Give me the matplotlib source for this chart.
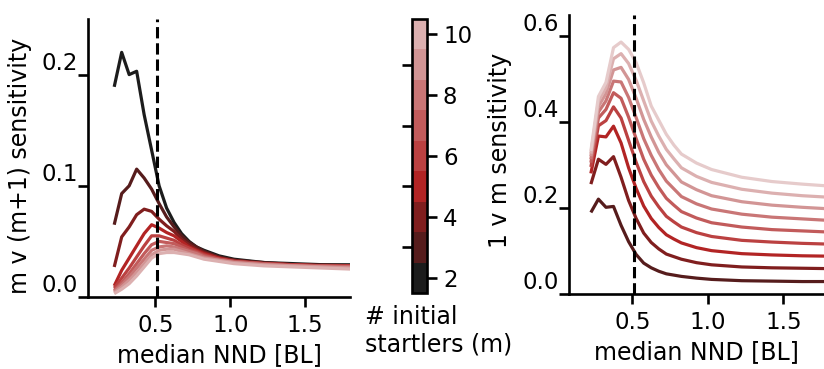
import numpy as np
import matplotlib
matplotlib.use("Agg")
import matplotlib.pyplot as plt
from matplotlib.colors import ListedColormap, BoundaryNorm
from matplotlib.cm import ScalarMappable
from matplotlib.ticker import FixedLocator

# ---------------- data ----------------
nnd = [0.225, 0.275, 0.325, 0.375, 0.425, 0.475, 0.525, 0.575, 0.625, 0.675,
       0.725, 0.775, 0.825, 0.925, 1.025, 1.225, 1.425, 1.625, 1.825]

m_values = [2, 3, 4, 5, 6, 7, 8, 9, 10]

# m v (m+1) sensitivity (left panel)
mvm1_m2 = [0.189, 0.220, 0.200, 0.203, 0.164, 0.132, 0.100, 0.080, 0.067, 0.057, 0.050, 0.045, 0.042, 0.037, 0.034, 0.031, 0.030, 0.029, 0.029]
mvm1_m3 = [0.065, 0.093, 0.100, 0.115, 0.107, 0.097, 0.084, 0.072, 0.063, 0.055, 0.049, 0.045, 0.041, 0.036, 0.033, 0.031, 0.029, 0.029, 0.028]
mvm1_m4 = [0.027, 0.054, 0.063, 0.074, 0.079, 0.077, 0.070, 0.064, 0.059, 0.052, 0.047, 0.043, 0.040, 0.035, 0.033, 0.030, 0.029, 0.028, 0.028]
mvm1_m5 = [0.010, 0.024, 0.035, 0.046, 0.057, 0.065, 0.062, 0.058, 0.055, 0.050, 0.045, 0.042, 0.039, 0.035, 0.032, 0.030, 0.029, 0.028, 0.028]
mvm1_m6 = [0.008, 0.017, 0.026, 0.036, 0.046, 0.055, 0.055, 0.053, 0.051, 0.047, 0.044, 0.041, 0.038, 0.034, 0.032, 0.030, 0.029, 0.028, 0.028]
mvm1_m7 = [0.006, 0.013, 0.021, 0.030, 0.039, 0.047, 0.050, 0.049, 0.048, 0.045, 0.042, 0.040, 0.037, 0.034, 0.032, 0.030, 0.028, 0.028, 0.027]
mvm1_m8 = [0.005, 0.011, 0.018, 0.026, 0.034, 0.042, 0.045, 0.046, 0.045, 0.043, 0.041, 0.039, 0.036, 0.033, 0.031, 0.029, 0.028, 0.027, 0.027]
mvm1_m9 = [0.004, 0.009, 0.015, 0.022, 0.030, 0.038, 0.042, 0.043, 0.043, 0.041, 0.039, 0.037, 0.035, 0.033, 0.031, 0.029, 0.028, 0.027, 0.026]
mvm1_m10 = [0.003, 0.007, 0.012, 0.019, 0.027, 0.035, 0.039, 0.040, 0.040, 0.039, 0.038, 0.036, 0.034, 0.032, 0.030, 0.028, 0.027, 0.026, 0.025]

# 1 v m sensitivity (right panel), bottom to top
onevm_1 = [0.190, 0.221, 0.202, 0.204, 0.160, 0.122, 0.092, 0.072, 0.061, 0.053, 0.047, 0.044, 0.041, 0.037, 0.034, 0.031, 0.030, 0.029, 0.029]
onevm_2 = [0.256, 0.314, 0.302, 0.320, 0.272, 0.218, 0.176, 0.142, 0.120, 0.105, 0.093, 0.087, 0.081, 0.073, 0.068, 0.063, 0.061, 0.060, 0.059]
onevm_3 = [0.281, 0.368, 0.366, 0.391, 0.352, 0.294, 0.246, 0.205, 0.176, 0.155, 0.138, 0.128, 0.119, 0.108, 0.101, 0.094, 0.091, 0.089, 0.088]
onevm_4 = [0.296, 0.392, 0.404, 0.436, 0.410, 0.358, 0.307, 0.262, 0.228, 0.203, 0.181, 0.168, 0.156, 0.143, 0.134, 0.125, 0.121, 0.118, 0.116]
onevm_5 = [0.306, 0.410, 0.430, 0.469, 0.456, 0.412, 0.362, 0.314, 0.277, 0.248, 0.223, 0.207, 0.192, 0.177, 0.166, 0.156, 0.150, 0.147, 0.144]
onevm_6 = [0.314, 0.424, 0.450, 0.496, 0.494, 0.458, 0.411, 0.362, 0.323, 0.290, 0.263, 0.245, 0.227, 0.210, 0.198, 0.186, 0.179, 0.175, 0.171]
onevm_7 = [0.321, 0.437, 0.467, 0.522, 0.528, 0.500, 0.456, 0.407, 0.366, 0.330, 0.301, 0.281, 0.261, 0.243, 0.229, 0.215, 0.207, 0.202, 0.198]
onevm_8 = [0.327, 0.449, 0.481, 0.548, 0.560, 0.537, 0.498, 0.450, 0.403, 0.368, 0.337, 0.315, 0.294, 0.274, 0.260, 0.244, 0.235, 0.229, 0.225]
onevm_9 = [0.333, 0.460, 0.493, 0.574, 0.587, 0.570, 0.539, 0.492, 0.438, 0.405, 0.372, 0.347, 0.326, 0.305, 0.290, 0.272, 0.262, 0.256, 0.251]

threshold = 0.51

left_series = [mvm1_m2, mvm1_m3, mvm1_m4, mvm1_m5, mvm1_m6, mvm1_m7, mvm1_m8, mvm1_m9, mvm1_m10]
right_series = [onevm_1, onevm_2, onevm_3, onevm_4, onevm_5, onevm_6, onevm_7, onevm_8, onevm_9]

# ---------------- style ----------------
palette = ["#1c1c1c", "#561c1c", "#801e1e", "#b22424", "#bb4141",
           "#c25b5b", "#c97676", "#d29595", "#dcb0b0", "#e6cbcb"]
left_colors = palette[:9]
right_colors = palette[1:]

W, H = 824, 369
fig = plt.figure(figsize=(W / 100, H / 100), dpi=100)
ax1 = fig.add_axes([88 / W, 72 / H, 262 / W, 278 / H])
cax = fig.add_axes([412 / W, 76 / H, 15 / W, 274 / H])
ax2 = fig.add_axes([569 / W, 75 / H, 255 / W, 279 / H])

TICK_FS = 16.5
LABEL_FS = 17
LW = 2.3
SPINE_W = 1.9

for ax, series, cols in [(ax1, left_series, left_colors), (ax2, right_series, right_colors)]:
    for ys, c in zip(series, cols):
        ax.plot(nnd, ys, color=c, lw=LW, solid_capstyle="butt")
    ax.axvline(threshold, color="black", lw=2.2, ls="--")
    for s in ["top", "right"]:
        ax.spines[s].set_visible(False)
    for s in ["left", "bottom"]:
        ax.spines[s].set_linewidth(SPINE_W)
    ax.tick_params(axis="both", length=7.5, width=SPINE_W, labelsize=TICK_FS)
    ax.tick_params(axis="y", pad=0)
    ax.tick_params(axis="x", pad=5)
    ax.set_xticks([0.5, 1.0, 1.5])
    ax.set_xlabel("median NND [BL]", fontsize=LABEL_FS)

ax1.set_xlim(0.05, 1.80)
ax1.set_ylim(0.0, 0.25)
ax1.set_yticks([0.0, 0.1, 0.2])
ax1.set_ylabel("m v (m+1) sensitivity", fontsize=LABEL_FS)
ax1.yaxis.set_label_coords(-0.215, 0.47)

ax2.set_xlim(0.08, 1.77)
ax2.set_ylim(0.0, 0.65)
ax2.set_yticks([0.0, 0.2, 0.4, 0.6])
ax2.set_ylabel("1 v m sensitivity", fontsize=LABEL_FS)
ax2.yaxis.set_label_coords(-0.225, 0.513)

for ax in (ax1, ax2):
    ax.set_yticklabels([f"{t:.1f}" for t in ax.get_yticks()])
    for lab in ax.get_yticklabels():
        lab.set_verticalalignment("bottom")

# colorbar
bounds = np.arange(min(m_values) - 0.5, max(m_values) + 1.0, 1.0)
cmap = ListedColormap(left_colors)
norm = BoundaryNorm(bounds, cmap.N)
sm = ScalarMappable(norm=norm, cmap=cmap)
cbar = fig.colorbar(sm, cax=cax, ticks=[2, 4, 6, 8, 10])
cbar.outline.set_linewidth(SPINE_W)
cax.tick_params(which="major", length=7.5, width=SPINE_W, labelsize=TICK_FS, pad=4)
cax.yaxis.set_minor_locator(FixedLocator([3, 5, 7, 9]))
cax.tick_params(which="minor", left=True, right=False, length=7.5, width=SPINE_W)

fig.text(365 / W, 1 - 305 / H, "# initial\nstartlers (m)", ha="left", va="top",
         fontsize=LABEL_FS, linespacing=1.2)

fig.savefig("out.png", dpi=100)
